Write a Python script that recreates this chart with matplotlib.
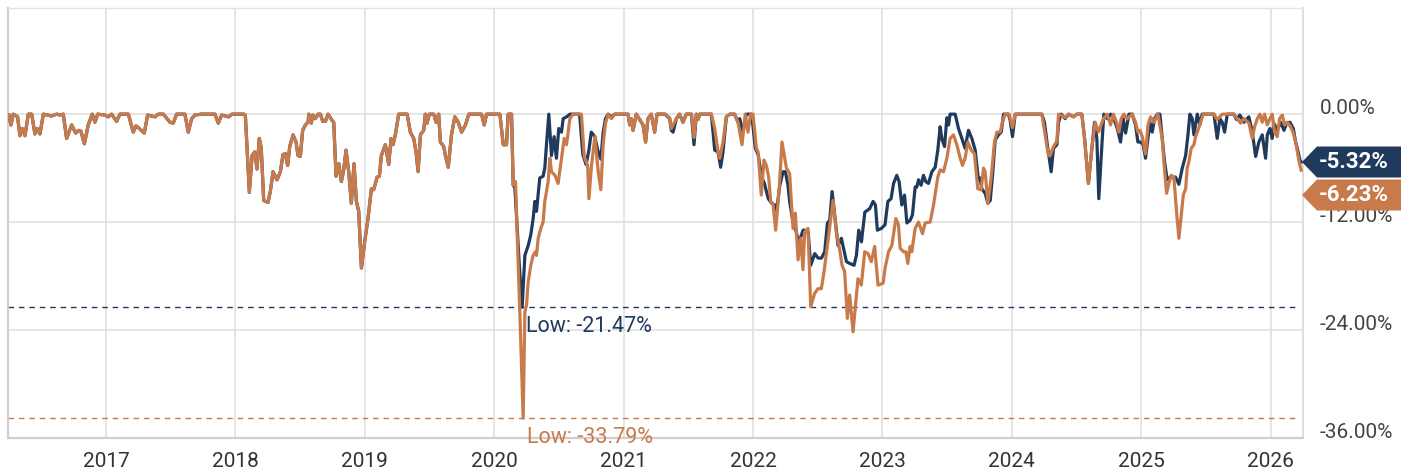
import matplotlib.pyplot as plt
from matplotlib.patches import Polygon
from matplotlib.transforms import IdentityTransform

plt.rcParams['font.family'] = ['Roboto', 'DejaVu Sans']

NAVY = '#1f3a5d'
ORANGE = '#c87a4a'

# drawdown history shared by both series (they coincide before 2020)
t_pre = [2016.250, 2016.266, 2016.284, 2016.317, 2016.335, 2016.353, 2016.374, 2016.400, 2016.426, 2016.451,
         2016.469, 2016.490, 2016.516, 2016.580, 2016.620, 2016.645, 2016.670, 2016.696, 2016.735, 2016.766,
         2016.790, 2016.807, 2016.833, 2016.863, 2016.894, 2016.915, 2016.936, 2016.992, 2017.018, 2017.044,
         2017.082, 2017.108, 2017.173, 2017.211, 2017.232, 2017.250, 2017.296, 2017.322, 2017.379, 2017.404,
         2017.443, 2017.495, 2017.520, 2017.546, 2017.610, 2017.636, 2017.662, 2017.688, 2017.739, 2017.842,
         2017.868, 2017.894, 2017.948, 2017.974, 2018.064, 2018.077, 2018.108, 2018.129, 2018.149, 2018.167,
         2018.185, 2018.200, 2018.219, 2018.252, 2018.270, 2018.291, 2018.322, 2018.348, 2018.368, 2018.386,
         2018.404, 2018.420, 2018.446, 2018.469, 2018.484, 2018.502, 2018.520, 2018.541, 2018.562, 2018.567,
         2018.587, 2018.598, 2018.618, 2018.639, 2018.657, 2018.675, 2018.696, 2018.716, 2018.747, 2018.760,
         2018.778, 2018.799, 2018.819, 2018.837, 2018.855, 2018.876, 2018.896, 2018.917, 2018.935, 2018.953,
         2018.974, 2018.999, 2019.025, 2019.051, 2019.069, 2019.095, 2019.113, 2019.128, 2019.159, 2019.185,
         2019.203, 2019.218, 2019.236, 2019.262, 2019.327, 2019.352, 2019.378, 2019.396, 2019.412, 2019.430,
         2019.455, 2019.468, 2019.481, 2019.499, 2019.533, 2019.551, 2019.571, 2019.584, 2019.610, 2019.623,
         2019.645, 2019.670, 2019.696, 2019.722, 2019.748, 2019.778, 2019.804, 2019.902, 2019.923, 2019.941,
         2020.044]
v_pre = [-0.1, -1.2, 0, -0.3, -2.4, -1.6, -2.4, 0, 0, -2.2,
         -1.6, -2.2, 0, -0.2, 0, -0.1, 0, -2.7, -1.2, -2.1,
         -1.8, -1.9, -3.3, -1.2, 0, -0.9, 0, -0.1, -0.3, 0,
         -0.8, 0, 0, -2.0, -1.3, -1.5, -2.1, -0.1, -0.3, 0,
         0, -0.9, -1.0, 0, 0, -2.0, -0.5, -0.1, 0, 0,
         -1.0, -0.1, -0.3, 0, 0, -0.1, -8.7, -4.6, -4.2, -6.1,
         -2.7, -3.8, -9.6, -9.8, -8.6, -6.4, -7.3, -6.4, -4.5, -4.4,
         -5.7, -3.6, -2.3, -3.1, -4.6, -4.7, -1.8, -1.2, -0.9, 0,
         -1.0, -0.1, -0.5, 0, 0, -0.8, -0.8, 0, -0.7, -0.9,
         -6.9, -5.5, -7.5, -6.2, -4.0, -6.4, -9.9, -5.5, -9.7, -10.8,
         -17.1, -14.2, -11.6, -8.3, -8.4, -7.0, -6.9, -4.6, -3.4, -5.6,
         -2.7, -3.4, -2.3, 0, 0, -2.0, -2.7, -4.2, -6.4, -2.3,
         -1.8, 0, -1.0, 0, 0, -0.9, 0, -3.1, -3.6, -4.6,
         -5.9, -2.3, -0.3, -0.9, -2.0, -1.2, 0, 0, -1.2, 0,
         0]

# navy series from 2020
t_navy = [2020.070, 2020.095, 2020.108, 2020.134, 2020.147, 2020.160, 2020.175, 2020.195, 2020.216, 2020.237,
          2020.263, 2020.283, 2020.301, 2020.314, 2020.327, 2020.352, 2020.378, 2020.391, 2020.404, 2020.422,
          2020.443, 2020.463, 2020.481, 2020.499, 2020.520, 2020.533, 2020.559, 2020.585, 2020.660, 2020.685,
          2020.710, 2020.732, 2020.750, 2020.778, 2020.800, 2020.824, 2020.842, 2020.860, 2020.880, 2020.906,
          2020.932, 2021.034, 2021.047, 2021.060, 2021.073, 2021.098, 2021.124, 2021.150, 2021.170, 2021.188,
          2021.214, 2021.240, 2021.258, 2021.320, 2021.356, 2021.369, 2021.382, 2021.408, 2021.433, 2021.459,
          2021.485, 2021.524, 2021.544, 2021.562, 2021.575, 2021.588, 2021.678, 2021.704, 2021.730, 2021.750,
          2021.768, 2021.794, 2021.820, 2021.858, 2021.884, 2021.897, 2021.923, 2021.948, 2021.990, 2022.018,
          2022.040, 2022.067, 2022.088, 2022.118, 2022.144, 2022.170, 2022.183, 2022.206, 2022.232, 2022.250,
          2022.270, 2022.283, 2022.309, 2022.335, 2022.348, 2022.361, 2022.387, 2022.400, 2022.426, 2022.446,
          2022.477, 2022.503, 2022.529, 2022.554, 2022.575, 2022.593, 2022.611, 2022.626, 2022.657, 2022.683,
          2022.722, 2022.748, 2022.781, 2022.799, 2022.817, 2022.838, 2022.864, 2022.902, 2022.928, 2022.946,
          2022.961, 2022.992, 2023.020, 2023.042, 2023.067, 2023.086, 2023.111, 2023.129, 2023.150, 2023.171,
          2023.189, 2023.214, 2023.232, 2023.253, 2023.266, 2023.279, 2023.299, 2023.317, 2023.335, 2023.356,
          2023.382, 2023.408, 2023.428, 2023.446, 2023.459, 2023.480, 2023.498, 2023.511, 2023.523, 2023.562,
          2023.588, 2023.614, 2023.639, 2023.665, 2023.691, 2023.717, 2023.742, 2023.755, 2023.768, 2023.794,
          2023.815, 2023.833, 2023.851, 2023.871, 2023.897, 2023.918, 2023.936, 2023.974, 2023.987, 2024.005,
          2024.026, 2024.232, 2024.252, 2024.278, 2024.304, 2024.322, 2024.348, 2024.361, 2024.381, 2024.412,
          2024.438, 2024.477, 2024.502, 2024.541, 2024.562, 2024.592, 2024.613, 2024.639, 2024.657, 2024.672,
          2024.699, 2024.711, 2024.737, 2024.763, 2024.789, 2024.815, 2024.840, 2024.861, 2024.879, 2024.905,
          2024.930, 2024.956, 2024.974, 2024.995, 2025.015, 2025.033, 2025.052, 2025.067, 2025.085, 2025.103,
          2025.124, 2025.144, 2025.162, 2025.180, 2025.201, 2025.227, 2025.247, 2025.265, 2025.291, 2025.317,
          2025.343, 2025.361, 2025.376, 2025.394, 2025.407, 2025.433, 2025.453, 2025.471, 2025.562, 2025.587,
          2025.608, 2025.626, 2025.644, 2025.665, 2025.716, 2025.737, 2025.762, 2025.793, 2025.832, 2025.858,
          2025.884, 2025.909, 2025.935, 2025.961, 2025.974, 2025.994, 2026.012, 2026.025, 2026.051, 2026.077,
          2026.103, 2026.123, 2026.149, 2026.175, 2026.193, 2026.206, 2026.226, 2026.236]
v_navy = [-3.4, -3.4, 0, 0, -7.9, -8.2, -12.0, -17.0, -21.47, -15.7,
          -14.6, -13.4, -11.6, -9.7, -10.8, -7.1, -6.9, -6.0, -3.4, 0,
          -4.6, -2.5, -4.9, -1.6, -2.0, -0.5, -0.3, 0, 0, -4.5,
          -5.6, -4.0, -2.0, -2.5, -4.0, -5.0, -2.0, -0.5, 0, -0.3,
          0, 0, -1.2, -0.5, -1.8, 0, -0.6, -1.2, -3.1, -0.5,
          0, -2.0, 0, 0, -0.5, -1.8, -2.0, -0.5, 0, -0.9,
          0, 0, -3.4, 0, -0.6, 0, 0, -4.0, -4.2, -5.9,
          -4.2, -0.3, 0, 0, -0.9, -0.5, -2.0, 0, 0, -3.8,
          -4.5, -7.0, -7.7, -9.4, -9.9, -10.1, -10.7, -8.0, -6.4, -6.4,
          -7.9, -9.7, -12.0, -13.1, -14.0, -14.0, -12.9, -12.9, -13.1, -16.8,
          -15.5, -16.0, -16.0, -15.3, -12.1, -11.8, -8.6, -10.5, -14.6, -13.8,
          -16.4, -16.6, -16.8, -15.7, -12.9, -14.2, -10.9, -10.5, -9.7, -10.1,
          -12.9, -12.7, -12.3, -9.7, -9.4, -7.7, -6.8, -7.5, -10.1, -9.0,
          -12.1, -11.8, -11.2, -8.1, -8.1, -7.3, -7.9, -6.8, -7.5, -7.7,
          -6.4, -5.9, -4.0, -1.4, -2.7, -3.6, -0.4, -1.2, 0, 0,
          -1.6, -2.7, -3.8, -1.8, -2.7, -4.0, -7.3, -7.1, -8.3, -8.8,
          -9.9, -9.6, -6.8, -2.9, -2.3, -2.0, 0, 0, -0.7, -2.5,
          0, 0, -0.9, -3.8, -6.4, -3.8, -3.4, -0.9, 0, -0.5,
          0, -0.3, 0, 0, -2.7, -7.7, -4.6, -0.9, -2.7, -9.4,
          -2.7, 0, -0.5, 0, -0.5, -1.6, -3.1, -0.5, -2.1, 0,
          0, -1.2, -3.1, -3.1, -3.4, -4.9, -2.7, -0.9, -2.0, -0.5,
          0, 0, -2.7, -5.3, -7.3, -7.0, -7.0, -7.0, -7.8, -6.0,
          -4.6, -2.3, 0, -0.5, -2.3, 0, -1.2, 0, 0, -2.7,
          -0.5, -0.9, -2.0, 0, 0, -0.6, -0.1, -0.9, -0.3, -2.0,
          -4.7, -3.1, -2.3, -4.9, -2.3, -1.6, -2.7, -1.0, -1.8, -0.9,
          -1.8, -1.0, -0.9, -1.6, -3.1, -3.8, -5.1, -5.32]

# orange series from 2020
t_orange = [2020.070, 2020.095, 2020.108, 2020.134, 2020.147, 2020.165, 2020.178, 2020.198, 2020.224, 2020.237,
            2020.250, 2020.263, 2020.283, 2020.301, 2020.319, 2020.327, 2020.340, 2020.360, 2020.378, 2020.391,
            2020.417, 2020.430, 2020.443, 2020.469, 2020.494, 2020.520, 2020.541, 2020.559, 2020.585, 2020.610,
            2020.674, 2020.696, 2020.722, 2020.732, 2020.752, 2020.778, 2020.804, 2020.824, 2020.842, 2020.860,
            2020.881, 2020.906, 2020.932, 2021.034, 2021.047, 2021.060, 2021.073, 2021.098, 2021.124, 2021.150,
            2021.170, 2021.188, 2021.214, 2021.240, 2021.258, 2021.320, 2021.356, 2021.369, 2021.382, 2021.408,
            2021.433, 2021.459, 2021.485, 2021.524, 2021.544, 2021.562, 2021.575, 2021.588, 2021.678, 2021.704,
            2021.730, 2021.743, 2021.768, 2021.794, 2021.820, 2021.858, 2021.884, 2021.915, 2021.940, 2021.961,
            2021.982, 2022.000, 2022.026, 2022.039, 2022.064, 2022.085, 2022.103, 2022.121, 2022.137, 2022.155,
            2022.175, 2022.201, 2022.224, 2022.258, 2022.283, 2022.309, 2022.327, 2022.348, 2022.369, 2022.386,
            2022.399, 2022.425, 2022.446, 2022.477, 2022.502, 2022.528, 2022.549, 2022.580, 2022.618, 2022.644,
            2022.670, 2022.688, 2022.708, 2022.729, 2022.747, 2022.773, 2022.799, 2022.811, 2022.837, 2022.863,
            2022.889, 2022.914, 2022.940, 2022.966, 2023.005, 2023.021, 2023.047, 2023.073, 2023.104, 2023.124,
            2023.137, 2023.163, 2023.181, 2023.196, 2023.214, 2023.227, 2023.253, 2023.279, 2023.310, 2023.330,
            2023.369, 2023.395, 2023.428, 2023.446, 2023.472, 2023.498, 2023.523, 2023.549, 2023.575, 2023.601,
            2023.619, 2023.639, 2023.660, 2023.686, 2023.711, 2023.737, 2023.763, 2023.781, 2023.794, 2023.815,
            2023.840, 2023.866, 2023.884, 2023.910, 2023.928, 2023.948, 2023.979, 2024.005, 2024.026, 2024.232,
            2024.252, 2024.283, 2024.296, 2024.322, 2024.348, 2024.361, 2024.412, 2024.438, 2024.477, 2024.502,
            2024.541, 2024.562, 2024.592, 2024.618, 2024.644, 2024.670, 2024.708, 2024.737, 2024.763, 2024.784,
            2024.809, 2024.827, 2024.845, 2024.866, 2024.892, 2024.930, 2024.956, 2024.974, 2024.990, 2025.008,
            2025.033, 2025.052, 2025.072, 2025.098, 2025.129, 2025.162, 2025.175, 2025.196, 2025.214, 2025.232,
            2025.252, 2025.273, 2025.291, 2025.309, 2025.325, 2025.343, 2025.355, 2025.368, 2025.386, 2025.407,
            2025.420, 2025.438, 2025.459, 2025.479, 2025.562, 2025.587, 2025.626, 2025.716, 2025.742, 2025.768,
            2025.793, 2025.832, 2025.858, 2025.876, 2025.897, 2025.917, 2025.935, 2025.953, 2025.974, 2025.994,
            2026.012, 2026.030, 2026.051, 2026.069, 2026.090, 2026.108, 2026.128, 2026.154, 2026.175, 2026.193,
            2026.211, 2026.226, 2026.236]
v_orange = [-3.4, -3.4, 0, 0, -7.9, -7.5, -13.5, -22.0, -33.79, -22.0,
            -21.2, -18.6, -16.8, -15.7, -15.3, -15.7, -13.8, -12.7, -12.0, -9.7,
            -7.5, -4.9, -6.4, -6.8, -7.7, -4.9, -2.7, -3.4, -0.5, 0,
            0, -4.7, -5.7, -9.4, -5.7, -2.5, -6.4, -8.4, -3.4, -1.0,
            0, -0.5, 0, 0, -1.2, -0.5, -1.8, 0, -0.6, -1.2,
            -3.1, -0.5, 0, -2.0, 0, 0, -0.4, -1.6, -1.2, -0.5,
            0, -0.9, 0, 0, -2.6, 0, -0.6, 0, 0, -1.6,
            -4.2, -4.9, -3.1, -0.3, 0, 0, -0.9, -3.4, 0, -2.0,
            0, 0, -3.8, -4.2, -9.0, -5.1, -5.7, -7.0, -9.7, -10.0,
            -12.9, -8.6, -3.1, -6.0, -6.6, -12.7, -11.0, -16.2, -13.8, -17.3,
            -13.1, -12.7, -21.4, -19.9, -19.4, -19.4, -17.5, -14.0, -9.6, -13.1,
            -15.1, -16.8, -17.5, -22.7, -20.1, -24.2, -20.1, -18.3, -19.0, -15.3,
            -15.5, -16.4, -14.7, -19.0, -18.8, -17.1, -15.3, -14.6, -11.6, -12.3,
            -14.9, -15.3, -15.3, -16.6, -14.7, -15.3, -12.7, -12.0, -13.3, -12.1,
            -12.0, -10.1, -7.0, -6.2, -6.4, -4.9, -2.7, -2.3, -3.4, -4.9,
            -5.7, -4.9, -3.1, -4.0, -4.4, -8.3, -8.4, -6.0, -6.4, -9.9,
            -7.1, -3.1, -2.0, -2.0, -0.9, 0, 0, -1.5, 0, 0,
            -1.8, -4.6, -4.6, -3.6, -3.0, 0, -0.4, 0, -0.3, 0,
            0, -2.7, -7.7, -3.8, -0.9, -2.0, -0.5, 0, -1.2, 0,
            -0.9, -2.0, -0.5, 0, -0.5, 0, -0.9, -2.0, -1.8, -2.5,
            -4.4, -1.2, -0.3, -0.9, 0, -2.7, -5.3, -8.8, -7.7, -6.8,
            -7.0, -10.9, -13.8, -11.2, -9.0, -8.3, -6.0, -5.3, -3.8, -3.4,
            -2.5, -1.8, -0.9, 0, 0, -0.6, 0, 0, -0.5, -1.0,
            -0.5, -1.0, -2.7, -1.4, -0.5, 0, -0.9, 0, -1.2, -0.5,
            0, -2.0, -2.5, -0.5, -0.1, -1.2, -0.9, -1.4, -2.1, -3.1,
            -4.6, -5.7, -6.23]

year_ticks = list(range(2017, 2027))
pct_ticks = [0, -12, -24, -36]

t1 = t_pre + t_navy
v1 = v_pre + v_navy
t2 = t_pre + t_orange
v2 = v_pre + v_orange

W, H = 1411, 473
fig = plt.figure(figsize=(W / 100, H / 100), dpi=100)
ax = fig.add_axes([8 / W, 35 / H, 1295 / W, 430 / H])

ax.plot(t1, v1, color=NAVY, lw=2.3, solid_joinstyle='round', zorder=3)
ax.plot(t2, v2, color=ORANGE, lw=2.3, solid_joinstyle='round', zorder=4)

ax.set_xlim(2016.243, 2026.25)
ax.set_ylim(-36, 11.8)

# lows
for t, v, c in [(t1, v1, NAVY), (t2, v2, ORANGE)]:
    low = min(v)
    t_low = t[v.index(low)]
    ax.axhline(low, xmin=0, xmax=0.996, color=c, lw=1.0, ls=(0, (4, 3.5)), zorder=2)
    ax.annotate(f'Low: {low:.2f}%', xy=(t_low, low), xytext=(4, -9), textcoords='offset pixels',
                ha='left', va='top', fontsize=15.5, color=c, zorder=5, annotation_clip=False)

# grid / frame
ax.set_xticks(year_ticks)
ax.set_xticklabels([str(y) for y in year_ticks])
ax.set_yticks(pct_ticks)
ax.set_yticklabels([f'{p:.2f}%' for p in pct_ticks])
ax.yaxis.tick_right()
ax.grid(True, color='#dedede', lw=1.1, zorder=0)
ax.tick_params(axis='x', length=0, pad=10, labelsize=15, labelcolor='#333333')
ax.tick_params(axis='y', length=0, pad=12, labelsize=15, labelcolor='#444444')
for lab in ax.get_yticklabels():
    lab.set_verticalalignment('baseline')
ax.spines['left'].set_color('#cfcfcf')
ax.spines['left'].set_linewidth(1.6)
ax.spines['bottom'].set_color('#cfcfcf')
ax.spines['bottom'].set_linewidth(1.6)
ax.spines['right'].set_color('#dedede')
ax.spines['right'].set_linewidth(1.4)
ax.spines['top'].set_color('#e4e4e4')
ax.spines['top'].set_linewidth(1.0)

# last-value tags on the right
y_nav = ax.transData.transform((t1[-1], v1[-1]))[1]
tags = [(y_nav, v1[-1], NAVY), (y_nav - 33, v2[-1], ORANGE)]
for yc, val, c in tags:
    tip, x0, x1, hh = 1302, 1317, 1401, 15.5
    poly = Polygon([(tip, yc), (x0, yc + hh), (x1, yc + hh), (x1, yc - hh), (x0, yc - hh)],
                   closed=True, facecolor=c, edgecolor='none', transform=IdentityTransform())
    fig.add_artist(poly)
    fig.text(1354, yc, f'{val:.2f}%', transform=IdentityTransform(), ha='center', va='center',
             color='white', fontsize=16, fontweight='bold')

fig.savefig('out.png', dpi=100)
